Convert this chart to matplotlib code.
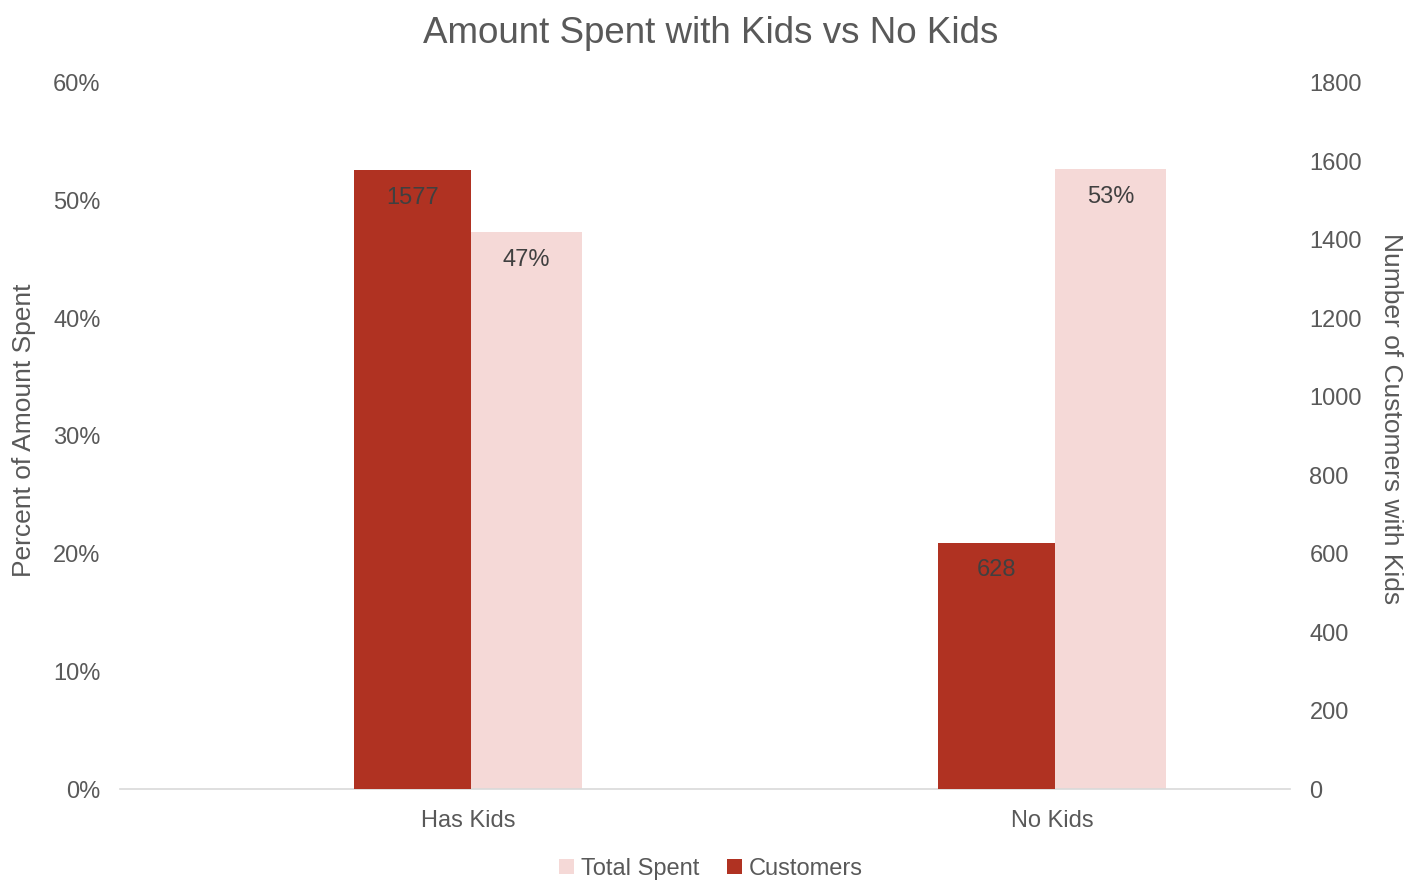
import numpy as np
import matplotlib.pyplot as plt

plt.rcParams['font.family'] = ['Liberation Sans', 'DejaVu Sans']

categories = ['Has Kids', 'No Kids']
total_spent = [0.473, 0.527]
customers = [1577, 628]
spent_labels = ['47%', '53%']

grey = '#595959'
dark = '#B03222'
light = '#F5D9D7'

fig = plt.figure(figsize=(14.22, 8.8), dpi=100)
ax = fig.add_axes([0.0844, 0.1034, 0.8228, 0.8023])
ax2 = ax.twinx()

x = np.arange(len(categories))
w1 = 0.2
w2 = 0.19

b1 = ax.bar(x, total_spent, w2, align='edge', color=light, label='Total Spent', zorder=2)
b2 = ax2.bar(x - w1, customers, w1, align='edge', color=dark, label='Customers', zorder=2)

ax.set_ylim(0, 0.6)
ax2.set_ylim(0, 1800)
ax.set_xlim(-0.601, 1.402)
ax.set_yticks(np.arange(0, 0.61, 0.1))
ax.set_yticklabels(['%d%%' % round(v * 100) for v in np.arange(0, 0.61, 0.1)])
ax2.set_yticks(np.arange(0, 1801, 200))
ax.set_xticks(x - 0.005)
ax.set_xticklabels(categories)

for a in (ax, ax2):
    for s in a.spines.values():
        s.set_visible(False)
    a.tick_params(length=0, labelsize=17, colors=grey)
ax.spines['bottom'].set_visible(True)
ax.spines['bottom'].set_color('#D9D9D9')
ax.spines['bottom'].set_linewidth(1.2)
ax.tick_params(axis='y', pad=14)
ax2.tick_params(axis='y', pad=14)
ax.tick_params(axis='x', pad=15)

# data labels just inside the top of each bar
for rect, lab in zip(b1, spent_labels):
    ax.annotate(lab, (rect.get_x() + rect.get_width() / 2, rect.get_height()),
                xytext=(0, -20), textcoords='offset points', ha='center', va='center',
                fontsize=17, color='#404040')
for rect, v in zip(b2, customers):
    ax2.annotate(str(v), (rect.get_x() + rect.get_width() / 2, rect.get_height()),
                 xytext=(0, -20), textcoords='offset points', ha='center', va='center',
                 fontsize=17, color='#404040')

ax.set_ylabel('Percent of Amount Spent', fontsize=19, color=grey, labelpad=14)
ax2.set_ylabel('Number of Customers with Kids', fontsize=19, color=grey, rotation=270,
               va='bottom')
ax2.yaxis.set_label_coords(1.076, 0.525)
ax.yaxis.set_label_coords(-0.072, 0.508)
fig.suptitle('Amount Spent with Kids vs No Kids', fontsize=26.5, color=grey, y=0.982)

fig.legend(handles=[b1, b2], loc='lower center', bbox_to_anchor=(0.5, -0.024), ncol=2,
           frameon=False, fontsize=17, labelcolor=grey, handlelength=0.6, handleheight=0.6,
           handletextpad=0.3, columnspacing=1.2)

fig.savefig('out.png', dpi=100)
